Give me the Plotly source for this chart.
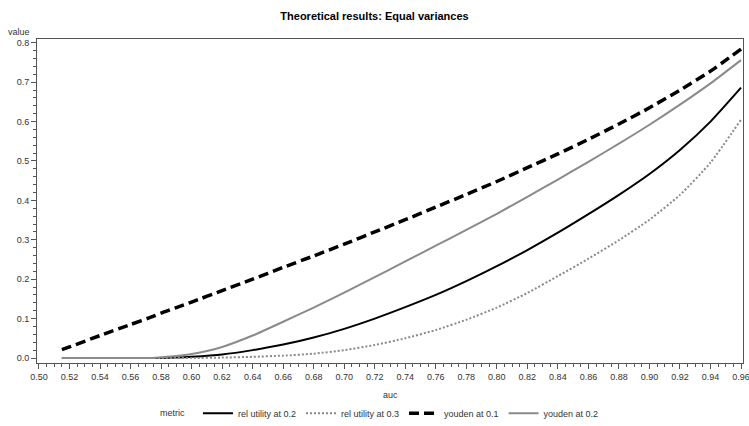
import plotly.graph_objects as go

auc = [0.515, 0.52, 0.54, 0.56, 0.575, 0.58, 0.59, 0.60, 0.62, 0.64, 0.66, 0.68, 0.70,
       0.72, 0.74, 0.76, 0.78, 0.80, 0.82, 0.84, 0.86, 0.88, 0.90, 0.92, 0.94, 0.96]

rel_utility_02 = [0.0, 0.0, 0.0, 0.0, 0.0, 0.0, 0.001, 0.003, 0.009, 0.020, 0.034, 0.052, 0.074,
                  0.100, 0.129, 0.160, 0.195, 0.233, 0.274, 0.318, 0.365, 0.414, 0.467, 0.528, 0.600, 0.686]

rel_utility_03 = [0.0, 0.0, 0.0, 0.0, 0.0, 0.0, 0.0, 0.0, 0.001, 0.003, 0.006, 0.011, 0.020,
                  0.033, 0.050, 0.071, 0.097, 0.128, 0.165, 0.208, 0.252, 0.299, 0.351, 0.414, 0.496, 0.605]

youden_01 = [0.021, 0.028, 0.057, 0.085, 0.106, 0.114, 0.128, 0.142, 0.171, 0.200, 0.230, 0.259, 0.289,
             0.320, 0.351, 0.383, 0.415, 0.448, 0.483, 0.518, 0.555, 0.594, 0.635, 0.680, 0.728, 0.784]

youden_02 = [0.0, 0.0, 0.0, 0.0, 0.0, 0.002, 0.005, 0.010, 0.028, 0.057, 0.092, 0.128, 0.166,
             0.205, 0.245, 0.285, 0.325, 0.366, 0.409, 0.453, 0.498, 0.544, 0.592, 0.643, 0.697, 0.756]

series = [
    ("rel utility at 0.2", rel_utility_02, "#000000", 2, "solid"),
    ("rel utility at 0.3", rel_utility_03, "#8a8a8a", 2, "2px,2px"),
    ("youden at 0.1", youden_01, "#000000", 3.5, "10px,5px"),
    ("youden at 0.2", youden_02, "#8a8a8a", 2, "solid"),
]

x_ticks = [round(0.50 + 0.02 * i, 2) for i in range(24)]
x_labels = [f"{v:.2f}" for v in x_ticks]
y_ticks = [0.0, 0.1, 0.2, 0.3, 0.4, 0.5, 0.6, 0.7, 0.8]
y_labels = [f"{v:.1f}" for v in y_ticks]

fig = go.Figure()
for name, vals, color, width, dash in series:
    fig.add_trace(go.Scatter(
        x=auc, y=vals, mode="lines", name=name,
        line=dict(color=color, width=width, dash=dash, shape="spline", smoothing=0.6),
    ))

font_family = "Liberation Sans, Arial, sans-serif"
fig.update_layout(
    width=749, height=426,
    margin=dict(l=37, r=6, t=39, b=63, autoexpand=False),
    paper_bgcolor="white", plot_bgcolor="white",
    font=dict(family=font_family, size=9, color="#333333"),
    title=dict(text="<b>Theoretical results: Equal variances</b>", x=0.5, xanchor="center",
               y=1 - 16 / 426, yanchor="middle", font=dict(size=11, color="#000000")),
    showlegend=True,
    legend=dict(orientation="h", x=0.228, xanchor="left", y=-0.155, yanchor="middle",
                font=dict(size=9, color="#333333"), itemwidth=30, tracegroupgap=0),
    xaxis=dict(range=[0.4987, 0.9613], tickvals=x_ticks, ticktext=x_labels,
               ticks="outside", ticklen=5, tickcolor="#555555", showline=True,
               linecolor="#555555", linewidth=1, mirror=True, showgrid=False, zeroline=False,
               minor=dict(dtick=0.005, tick0=0.5, ticks="outside", ticklen=3, tickcolor="#555555"),
               tickfont=dict(size=9), ticklabeloverflow="allow", automargin=False),
    yaxis=dict(range=[-0.0127, 0.8096], tickvals=y_ticks, ticktext=y_labels,
               ticks="outside", ticklen=5, tickcolor="#555555", showline=True,
               linecolor="#555555", linewidth=1, mirror=True, showgrid=False, zeroline=False,
               minor=dict(dtick=0.02, tick0=0, ticks="outside", ticklen=3, tickcolor="#555555"),
               tickfont=dict(size=9), automargin=False),
    annotations=[
        dict(text="value", xref="paper", yref="paper", x=0, y=1, xanchor="right", yanchor="bottom",
             xshift=-5, yshift=0, showarrow=False, font=dict(size=9, color="#333333")),
        dict(text="auc", xref="paper", yref="paper", x=0.5, y=0, xanchor="center", yanchor="middle",
             yshift=-32, showarrow=False, font=dict(size=9, color="#333333")),
        dict(text="metric", xref="paper", yref="paper", x=0.1926, y=-0.155, xanchor="center",
             yanchor="middle", showarrow=False, font=dict(size=9, color="#333333")),
    ],
)

fig.write_html("out.html")
